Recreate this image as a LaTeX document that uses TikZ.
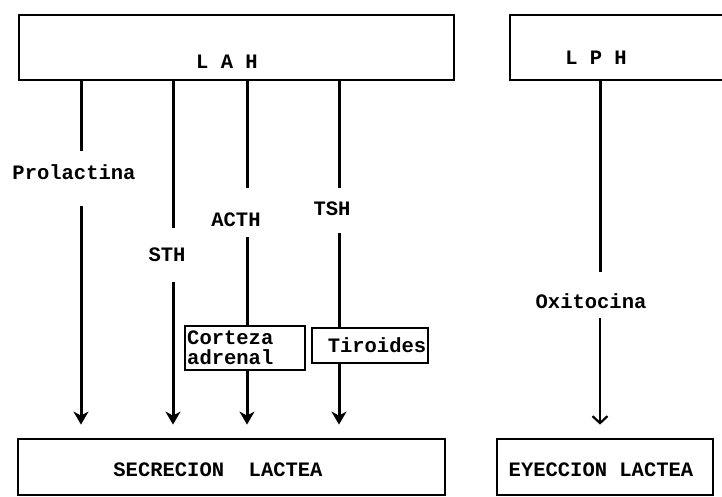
\documentclass[tikz,border=0pt]{standalone}
\usepackage{fontspec}
\setmonofont{Liberation Mono}
\usetikzlibrary{arrows.meta}
\tikzset{
    box/.style={draw, line width=2.8pt, inner sep=0pt},
    lbl/.style={font=\ttfamily\bfseries\fontsize{20.5}{20}\selectfont, inner sep=0pt},
    gap/.style 2 args={lbl, anchor=base, text height=#1pt, text depth=#2pt},
    link/.style={line width=3pt},
    flow/.style={link, -{Stealth[length=13pt,width=15pt,inset=4pt]}, shorten >=13pt},
    thinflow/.style={line width=2.2pt, -{Straight Barb[length=7pt,width=15pt]}, shorten >=13pt},
}

\begin{document}
\begin{tikzpicture}[x=1pt, y=-1pt]

    \clip (0,0) rectangle (722,496);

    % glands and targets
    \node[box, minimum width=435pt, minimum height=65pt] (lah) at (236.5,47.5) {};
    \node[box, minimum width=230pt, minimum height=65pt] (lph) at (625,47.5) {};
    \node[box, minimum width=427pt, minimum height=56pt] (sec) at (231.5,467) {};
    \node[box, minimum width=216pt, minimum height=56pt] (eye) at (605,467) {};
    \node[box, minimum width=120pt, minimum height=44pt] (cor) at (245,348) {};
    \node[box, minimum width=116pt, minimum height=35pt] (tir) at (370,345.5) {};

    \node[lbl] (lahtxt) at (227,62) {L A H};
    \node[lbl] (lphtxt) at (596,58) {L P H};
    \node[lbl] (sectxt) at (218,470) {SECRECION\ \ LACTEA};
    \node[lbl] (eyetxt) at (601,470) {EYECCION LACTEA};
    \node[lbl, align=left, anchor=west] (cortxt) at (187,348) {Corteza\\adrenal};
    \node[lbl] (tirtxt) at (377,345) {Tiroides};

    % hormones
    \node[gap={28.5}{26.5}] (prl) at (74,179.5) {Prolactina};
    \node[gap={33.5}{20.5}] (sth) at (167,261.5) {STH};
    \node[gap={38.5}{10.5}] (acth) at (236,226.5) {ACTH};
    \node[gap={27.5}{17.5}] (tsh) at (332,215.5) {TSH};
    \node[gap={36.5}{9.5}] (oxi) at (591,308.5) {Oxitocina};

    \coordinate (prlx) at (81,0);
    \coordinate (sthx) at (173,0);
    \coordinate (acthx) at (247,0);
    \coordinate (tshx) at (339,0);
    \coordinate (oxix) at (600,0);

    \draw[link] (lah.south -| prlx) -- (prl.north -| prlx);
    \draw[flow] (prl.south -| prlx) -- (sec.north -| prlx);
    \draw[link] (lah.south -| sthx) -- (sth.north -| sthx);
    \draw[flow] (sth.south -| sthx) -- (sec.north -| sthx);
    \draw[link] (lah.south -| acthx) -- (acth.north -| acthx);
    \draw[link] (acth.south -| acthx) -- (cor.north -| acthx);
    \draw[flow] (cor.south -| acthx) -- (sec.north -| acthx);
    \draw[link] (lah.south -| tshx) -- (tsh.north -| tshx);
    \draw[link] (tsh.south -| tshx) -- (tir.north -| tshx);
    \draw[flow] (tir.south -| tshx) -- (sec.north -| tshx);
    \draw[link] (lph.south -| oxix) -- (oxi.north -| oxix);
    \draw[thinflow] (oxi.south -| oxix) -- (eye.north -| oxix);

\end{tikzpicture}
\end{document}
